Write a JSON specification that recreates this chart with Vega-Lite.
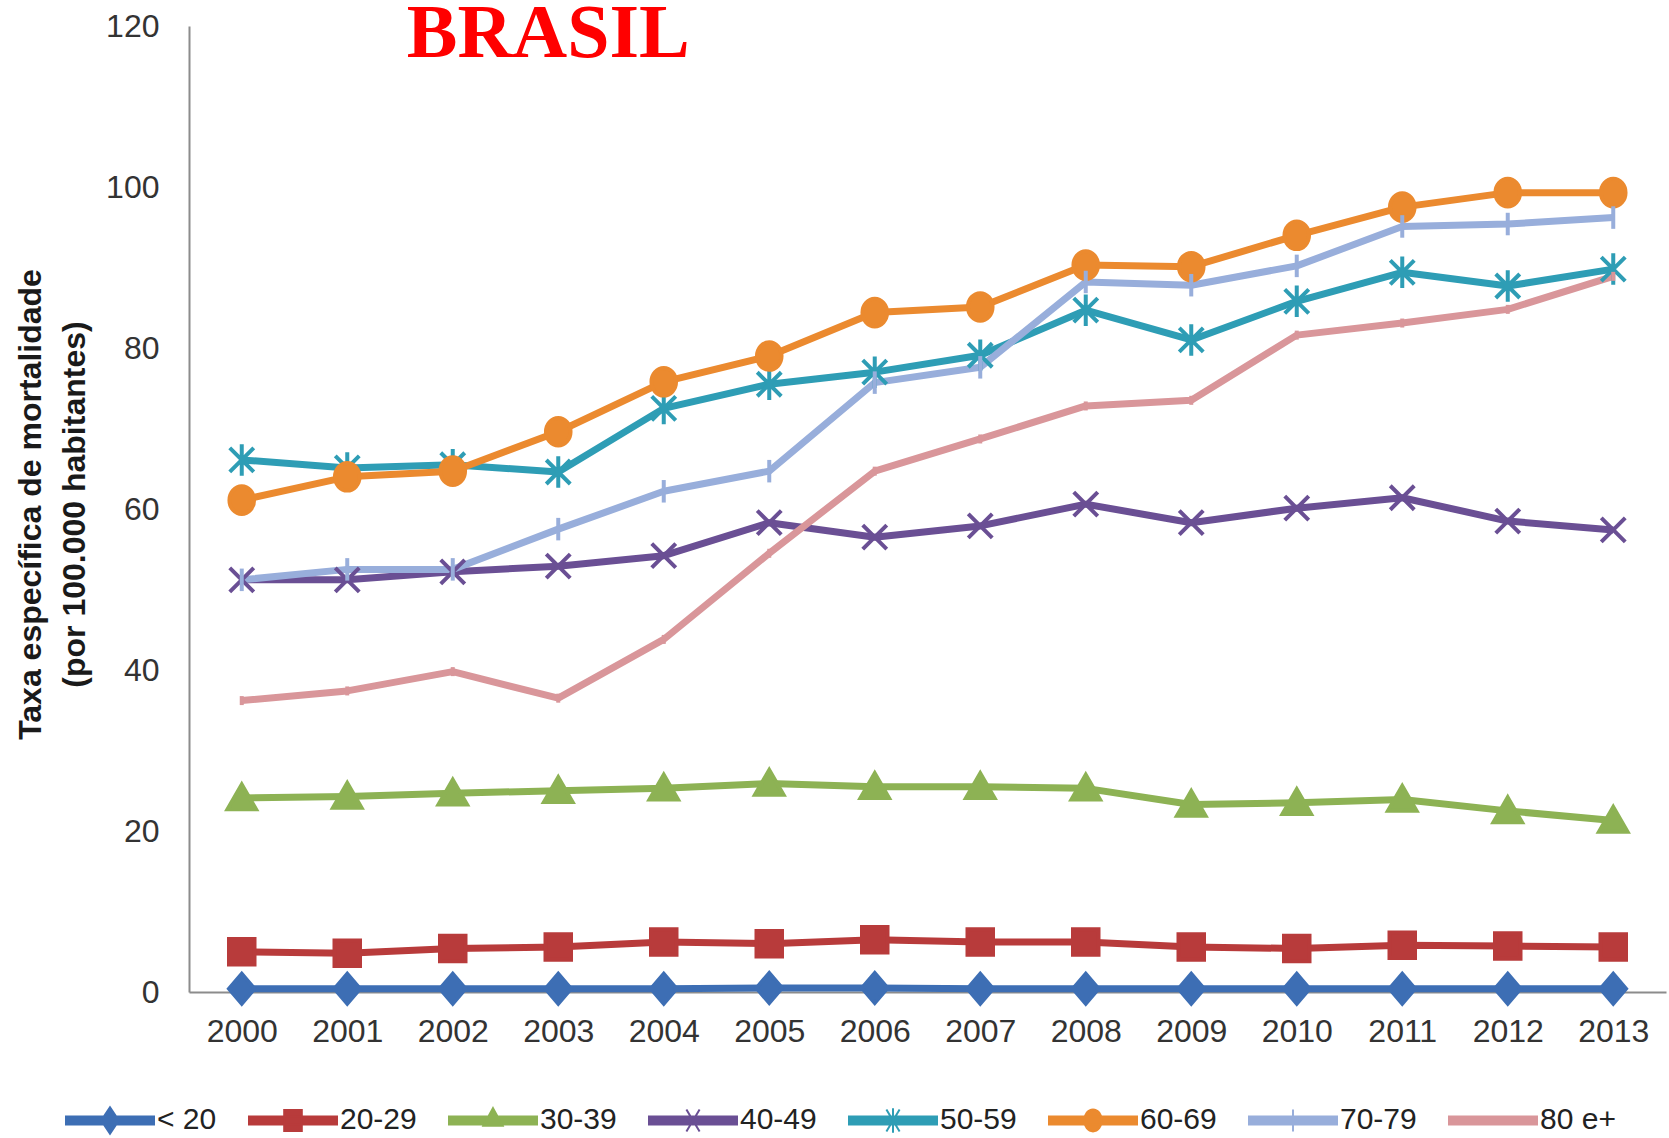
{
  "$schema": "https://vega.github.io/schema/vega-lite/v6.json",
  "autosize": "none",
  "width": 1477,
  "height": 966,
  "padding": {"left": 189, "top": 26, "right": 3, "bottom": 146},
  "background": "white",
  "config": {
    "view": {"stroke": null},
    "font": "Liberation Sans"
  },
  "datasets": {
    "rates": [
      {"year": "2000", "series": "< 20", "v": 0.4}, {"year": "2001", "series": "< 20", "v": 0.4}, {"year": "2002", "series": "< 20", "v": 0.4}, {"year": "2003", "series": "< 20", "v": 0.4}, {"year": "2004", "series": "< 20", "v": 0.4}, {"year": "2005", "series": "< 20", "v": 0.5}, {"year": "2006", "series": "< 20", "v": 0.5}, {"year": "2007", "series": "< 20", "v": 0.4}, {"year": "2008", "series": "< 20", "v": 0.4}, {"year": "2009", "series": "< 20", "v": 0.4}, {"year": "2010", "series": "< 20", "v": 0.4}, {"year": "2011", "series": "< 20", "v": 0.4}, {"year": "2012", "series": "< 20", "v": 0.4}, {"year": "2013", "series": "< 20", "v": 0.4},
      {"year": "2000", "series": "20-29", "v": 5.0}, {"year": "2001", "series": "20-29", "v": 4.8}, {"year": "2002", "series": "20-29", "v": 5.4}, {"year": "2003", "series": "20-29", "v": 5.6}, {"year": "2004", "series": "20-29", "v": 6.2}, {"year": "2005", "series": "20-29", "v": 6.0}, {"year": "2006", "series": "20-29", "v": 6.5}, {"year": "2007", "series": "20-29", "v": 6.2}, {"year": "2008", "series": "20-29", "v": 6.2}, {"year": "2009", "series": "20-29", "v": 5.6}, {"year": "2010", "series": "20-29", "v": 5.4}, {"year": "2011", "series": "20-29", "v": 5.8}, {"year": "2012", "series": "20-29", "v": 5.7}, {"year": "2013", "series": "20-29", "v": 5.6},
      {"year": "2000", "series": "30-39", "v": 24.1}, {"year": "2001", "series": "30-39", "v": 24.3}, {"year": "2002", "series": "30-39", "v": 24.7}, {"year": "2003", "series": "30-39", "v": 25.0}, {"year": "2004", "series": "30-39", "v": 25.3}, {"year": "2005", "series": "30-39", "v": 25.9}, {"year": "2006", "series": "30-39", "v": 25.5}, {"year": "2007", "series": "30-39", "v": 25.5}, {"year": "2008", "series": "30-39", "v": 25.3}, {"year": "2009", "series": "30-39", "v": 23.3}, {"year": "2010", "series": "30-39", "v": 23.5}, {"year": "2011", "series": "30-39", "v": 23.9}, {"year": "2012", "series": "30-39", "v": 22.5}, {"year": "2013", "series": "30-39", "v": 21.3},
      {"year": "2000", "series": "40-49", "v": 51.2}, {"year": "2001", "series": "40-49", "v": 51.2}, {"year": "2002", "series": "40-49", "v": 52.2}, {"year": "2003", "series": "40-49", "v": 52.9}, {"year": "2004", "series": "40-49", "v": 54.2}, {"year": "2005", "series": "40-49", "v": 58.3}, {"year": "2006", "series": "40-49", "v": 56.5}, {"year": "2007", "series": "40-49", "v": 57.9}, {"year": "2008", "series": "40-49", "v": 60.6}, {"year": "2009", "series": "40-49", "v": 58.3}, {"year": "2010", "series": "40-49", "v": 60.1}, {"year": "2011", "series": "40-49", "v": 61.4}, {"year": "2012", "series": "40-49", "v": 58.5}, {"year": "2013", "series": "40-49", "v": 57.4},
      {"year": "2000", "series": "50-59", "v": 66.1}, {"year": "2001", "series": "50-59", "v": 65.1}, {"year": "2002", "series": "50-59", "v": 65.5}, {"year": "2003", "series": "50-59", "v": 64.6}, {"year": "2004", "series": "50-59", "v": 72.5}, {"year": "2005", "series": "50-59", "v": 75.5}, {"year": "2006", "series": "50-59", "v": 77.0}, {"year": "2007", "series": "50-59", "v": 79.1}, {"year": "2008", "series": "50-59", "v": 84.7}, {"year": "2009", "series": "50-59", "v": 81.0}, {"year": "2010", "series": "50-59", "v": 85.8}, {"year": "2011", "series": "50-59", "v": 89.4}, {"year": "2012", "series": "50-59", "v": 87.7}, {"year": "2013", "series": "50-59", "v": 89.8},
      {"year": "2000", "series": "60-69", "v": 61.1}, {"year": "2001", "series": "60-69", "v": 64.0}, {"year": "2002", "series": "60-69", "v": 64.7}, {"year": "2003", "series": "60-69", "v": 69.6}, {"year": "2004", "series": "60-69", "v": 75.8}, {"year": "2005", "series": "60-69", "v": 79.0}, {"year": "2006", "series": "60-69", "v": 84.4}, {"year": "2007", "series": "60-69", "v": 85.1}, {"year": "2008", "series": "60-69", "v": 90.3}, {"year": "2009", "series": "60-69", "v": 90.1}, {"year": "2010", "series": "60-69", "v": 94.0}, {"year": "2011", "series": "60-69", "v": 97.5}, {"year": "2012", "series": "60-69", "v": 99.3}, {"year": "2013", "series": "60-69", "v": 99.3},
      {"year": "2000", "series": "70-79", "v": 51.2}, {"year": "2001", "series": "70-79", "v": 52.5}, {"year": "2002", "series": "70-79", "v": 52.5}, {"year": "2003", "series": "70-79", "v": 57.5}, {"year": "2004", "series": "70-79", "v": 62.2}, {"year": "2005", "series": "70-79", "v": 64.7}, {"year": "2006", "series": "70-79", "v": 75.7}, {"year": "2007", "series": "70-79", "v": 77.6}, {"year": "2008", "series": "70-79", "v": 88.2}, {"year": "2009", "series": "70-79", "v": 87.8}, {"year": "2010", "series": "70-79", "v": 90.2}, {"year": "2011", "series": "70-79", "v": 95.1}, {"year": "2012", "series": "70-79", "v": 95.4}, {"year": "2013", "series": "70-79", "v": 96.2},
      {"year": "2000", "series": "80 e+", "v": 36.2}, {"year": "2001", "series": "80 e+", "v": 37.4}, {"year": "2002", "series": "80 e+", "v": 39.8}, {"year": "2003", "series": "80 e+", "v": 36.5}, {"year": "2004", "series": "80 e+", "v": 43.8}, {"year": "2005", "series": "80 e+", "v": 54.5}, {"year": "2006", "series": "80 e+", "v": 64.7}, {"year": "2007", "series": "80 e+", "v": 68.7}, {"year": "2008", "series": "80 e+", "v": 72.8}, {"year": "2009", "series": "80 e+", "v": 73.5}, {"year": "2010", "series": "80 e+", "v": 81.6}, {"year": "2011", "series": "80 e+", "v": 83.1}, {"year": "2012", "series": "80 e+", "v": 84.8}, {"year": "2013", "series": "80 e+", "v": 88.9}
    ],
    "heading": [{"label": "BRASIL"}]
  },
  "layer": [
    {
      "data": {"name": "rates"},
      "mark": {"type": "line", "strokeWidth": 7, "strokeJoin": "round"},
      "encoding": {
        "x": {
          "field": "year",
          "type": "ordinal",
          "scale": {"type": "point", "padding": 0.5},
          "axis": {
            "title": null,
            "labelAngle": 0,
            "labelFont": "Liberation Sans",
            "labelFontSize": 32,
            "labelColor": "#333333",
            "labelPadding": 24,
            "ticks": false,
            "tickSize": 0,
            "grid": false,
            "domainColor": "#8c8c8c",
            "domainWidth": 2
          }
        },
        "y": {
          "field": "v",
          "type": "quantitative",
          "scale": {"domain": [0, 120], "nice": false},
          "axis": {
            "values": [0, 20, 40, 60, 80, 100, 120],
            "grid": false,
            "ticks": false,
            "tickSize": 0,
            "labelFont": "Liberation Sans",
            "labelFontSize": 32,
            "labelColor": "#333333",
            "labelPadding": 30,
            "domainColor": "#8c8c8c",
            "domainWidth": 2,
            "title": ["Taxa específica de mortalidade", "(por 100.000 habitantes)"],
            "titleFont": "Liberation Sans",
            "titleFontSize": 32,
            "titleFontWeight": "bold",
            "titleColor": "#1a1a1a",
            "titleLineHeight": 44,
            "titleAngle": -90,
            "titleAlign": "center",
            "titleBaseline": "top",
            "titleX": -174,
            "titleY": 478
          }
        },
        "color": {
          "field": "series",
          "type": "nominal",
          "scale": {
            "domain": ["< 20", "20-29", "30-39", "40-49", "50-59", "60-69", "70-79", "80 e+"],
            "range": ["#3d6eb4", "#b83b3b", "#8db254", "#6a4f94", "#2e9db5", "#eb8a2f", "#98aedb", "#d9969a"]
          },
          "legend": {
            "title": null,
            "orient": "none",
            "legendX": -124,
            "legendY": 1049,
            "direction": "horizontal",
            "columns": 8,
            "columnPadding": 28,
            "padding": 0,
            "symbolSize": 7744,
            "symbolStrokeWidth": 2,
            "labelFont": "Liberation Sans",
            "labelFontSize": 30,
            "labelColor": "#222222",
            "labelOffset": 2,
            "encoding": {
              "symbols": {
                "shape": {"value": {"expr": "{'< 20': 'M-1,-0.09H1V0.09H-1Z M0,-0.3L0.2,0L0,0.3L-0.2,0Z M0,-0.32L0,-0.32M0,0.32L0,0.32', '20-29': 'M-1,-0.09H1V0.09H-1Z M-0.2,-0.24H0.2V0.24H-0.2Z M0,-0.32L0,-0.32M0,0.32L0,0.32', '30-39': 'M-1,-0.09H1V0.09H-1Z M0,-0.28L0.22,0.12H-0.22Z M0,-0.32L0,-0.32M0,0.32L0,0.32', '40-49': 'M-1,-0.09H1V0.09H-1Z M-0.15,-0.25L0.15,0.25M-0.15,0.25L0.15,-0.25 M0,-0.32L0,-0.32M0,0.32L0,0.32', '50-59': 'M-1,-0.09H1V0.09H-1Z M-0.15,-0.25L0.15,0.25M-0.15,0.25L0.15,-0.25M0,-0.28V0.28 M0,-0.32L0,-0.32M0,0.32L0,0.32', '60-69': 'M-1,-0.09H1V0.09H-1Z M-0.2,0A0.2,0.25 0 1,1 0.2,0A0.2,0.25 0 1,1 -0.2,0Z M0,-0.32L0,-0.32M0,0.32L0,0.32', '70-79': 'M-1,-0.09H1V0.09H-1Z M0,-0.25V0.25 M0,-0.32L0,-0.32M0,0.32L0,0.32', '80 e+': 'M-1,-0.09H1V0.09H-1Z M0,-0.32L0,-0.32M0,0.32L0,0.32'}[datum.value]"}},
                "strokeWidth": {"value": 2}
              }
            }
          }
        }
      }
    },
    {
      "data": {"name": "rates"},
      "mark": {"type": "point", "filled": true, "strokeWidth": 4, "size": 900, "opacity": 1},
      "encoding": {
        "x": {"field": "year", "type": "ordinal"},
        "y": {"field": "v", "type": "quantitative"},
        "color": {"field": "series", "type": "nominal"},
        "shape": {
          "field": "series",
          "type": "nominal",
          "scale": {
            "domain": ["80 e+", "70-79", "60-69", "50-59", "40-49", "30-39", "20-29", "< 20"],
            "range": [
              "M0,-0.3V0.3",
              "M0,-0.75V0.75",
              "M-0.82,0A0.82,0.92 0 1,1 0.82,0A0.82,0.92 0 1,1 -0.82,0Z",
              "M-0.8,-0.8L0.8,0.8M-0.8,0.8L0.8,-0.8M0,-1.05V1.05",
              "M-0.8,-0.8L0.8,0.8M-0.8,0.8L0.8,-0.8",
              "M0,-0.9L0.95,0.75H-0.95Z",
              "M-0.85,-0.85H0.85V0.85H-0.85Z",
              "M0,-1L0.85,0L0,1L-0.85,0Z"
            ]
          },
          "legend": null
        },
        "stroke": {
          "field": "series",
          "type": "nominal",
          "scale": {
            "domain": ["< 20", "20-29", "30-39", "40-49", "50-59", "60-69", "70-79", "80 e+"],
            "range": ["#3d6eb4", "#b83b3b", "#8db254", "#6a4f94", "#2e9db5", "#eb8a2f", "#98aedb", "#d9969a"]
          },
          "legend": null
        }
      }
    },
    {
      "data": {"name": "heading"},
      "mark": {
        "type": "text",
        "font": "Liberation Serif",
        "fontSize": 76,
        "fontWeight": "bold",
        "align": "center",
        "baseline": "alphabetic",
        "color": "#ff0000",
        "dx": -10,
        "dy": 31
      },
      "encoding": {
        "x": {"datum": "2003", "type": "ordinal"},
        "y": {"datum": 120, "type": "quantitative"},
        "text": {"field": "label"}
      }
    }
  ]
}
